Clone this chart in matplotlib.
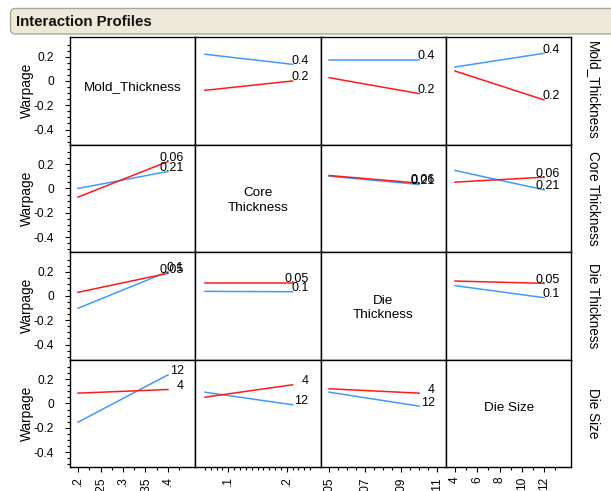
import numpy as np
import matplotlib
matplotlib.use("Agg")
import matplotlib.pyplot as plt
from matplotlib.patches import FancyBboxPatch
from matplotlib import font_manager

plt.rcParams["font.family"] = ["Liberation Sans", "DejaVu Sans"]

# ---- factors and their two levels ----
factors = ["Mold_Thickness", "Core Thickness", "Die Thickness", "Die Size"]
diag_text = ["Mold_Thickness", "Core\nThickness", "Die\nThickness", "Die Size"]
levels = [(0.2, 0.4), (0.06, 0.21), (0.05, 0.1), (4, 12)]
level_labels = [("0.2", "0.4"), ("0.06", "0.21"), ("0.05", "0.1"), ("4", "12")]

# Warpage at the low / high end of the column factor, with the row factor held
# at its low (red) or high (blue) level. None marks the diagonal cells.
mold_low = [None, (-0.077, 0.000), (0.027, -0.104), (0.082, -0.156)]
mold_high = [None, (0.220, 0.137), (0.173, 0.173), (0.115, 0.228)]
core_low = [(-0.071, 0.222), None, (0.107, 0.044), (0.052, 0.093)]
core_high = [(0.000, 0.140), None, (0.101, 0.033), (0.148, -0.011)]
dthk_low = [(0.030, 0.187), (0.110, 0.110), None, (0.123, 0.104)]
dthk_high = [(-0.101, 0.200), (0.038, 0.035), None, (0.085, -0.014)]
size_low = [(0.085, 0.115), (0.052, 0.154), (0.121, 0.085), None]
size_high = [(-0.154, 0.236), (0.093, -0.011), (0.093, -0.022), None]

low_rows = [mold_low, core_low, dthk_low, size_low]
high_rows = [mold_high, core_high, dthk_high, size_high]

# ---- axis scales ----
xlims = [(0.1822, 0.4607), (0.0435, 0.258), (0.0453, 0.1149), (3.191, 14.45)]
x_major = [[0.2, 0.25, 0.3, 0.35, 0.4], [0.1, 0.2], [0.05, 0.07, 0.09, 0.11],
           [4, 6, 8, 10, 12]]
x_major_labels = [[".2", ".25", ".3", ".35", ".4"], [".1", ".2"],
                  [".05", ".07", ".09", ".11"], ["4", "6", "8", "10", "12"]]
x_minor = [np.arange(0.225, 0.43, 0.05),
           np.arange(0.06, 0.245, 0.01),
           np.arange(0.055, 0.11, 0.005),
           np.arange(5, 14, 2)]
ylim = (-0.523, 0.362)
y_major = [-0.4, -0.2, 0, 0.2]
y_major_labels = ["-0.4", "-0.2", "0", "0.2"]
y_minor = np.arange(-0.5, 0.31, 0.05)

RED = "#FF1A1A"
BLUE = "#3D9BFF"

# a condensed bold face for the header if one is installed
installed = {f.name for f in font_manager.fontManager.ttflist}
if "Liberation Sans Narrow" in installed:
    title_family, title_size = ["Liberation Sans Narrow", "Liberation Sans"], 12.5
else:
    title_family, title_size = ["Liberation Sans", "DejaVu Sans"], 10.8

W, H = 611, 491
fig = plt.figure(figsize=(W / 100, H / 100), dpi=100)
fig.patch.set_facecolor("white")

# header strip
bg = fig.add_axes([0, 0, 1, 1], zorder=-5)
bg.set_xlim(0, W)
bg.set_ylim(H, 0)
bg.axis("off")
bg.add_patch(FancyBboxPatch((10.5, 8.5), 640, 25.5,
                            boxstyle="round,pad=0,rounding_size=5",
                            facecolor="#ECE9D8", edgecolor="#A9A79A", lw=1.0))
bg.text(16, 21.5, "Interaction Profiles", fontsize=title_size,
        fontweight="bold", family=title_family,
        ha="left", va="center", color="#111111")

col_x = [70, 195.3, 320.6, 446, 571.3]
row_y = [37, 144.5, 252, 359.5, 467]

for i in range(4):
    for j in range(4):
        ax = fig.add_axes([col_x[j] / W, 1 - row_y[i + 1] / H,
                           (col_x[j + 1] - col_x[j]) / W,
                           (row_y[i + 1] - row_y[i]) / H])
        ax.set_xlim(*xlims[j])
        ax.set_ylim(*ylim)
        for s in ax.spines.values():
            s.set_linewidth(1.0)
            s.set_color("black")
        ax.tick_params(which="both", direction="out", color="black",
                       width=0.8, labelsize=8.6)
        ax.tick_params(which="major", length=3.8)
        ax.tick_params(which="minor", length=2.2)
        if j == 0:
            ax.set_yticks(y_major)
            ax.set_yticklabels(y_major_labels)
            ax.set_yticks(y_minor, minor=True)
            ax.tick_params(axis="y", pad=7.5)
        else:
            ax.set_yticks([])
            ax.set_yticks([], minor=True)
        if i == 3:
            ax.set_xticks(x_major[j])
            ax.set_xticklabels(x_major_labels[j], rotation=90, va="top")
            ax.set_xticks(x_minor[j], minor=True)
            ax.tick_params(axis="x", pad=3)
        else:
            ax.set_xticks([])
            ax.set_xticks([], minor=True)

        if i == j:
            yfrac = [0.53, 0.48, 0.48, 0.55][i]
            ax.text(0.5, yfrac, diag_text[i], transform=ax.transAxes,
                    ha="center", va="center", fontsize=9.7,
                    linespacing=1.25)
            continue

        lo = low_rows[i][j]
        hi = high_rows[i][j]
        ax.plot(levels[j], hi, color=BLUE, lw=1.1)
        ax.plot(levels[j], lo, color=RED, lw=1.1)
        for vals, lab in ((lo, level_labels[i][0]), (hi, level_labels[i][1])):
            ax.annotate(lab, xy=(levels[j][1], vals[1]), xytext=(16, 0.5),
                        textcoords="offset pixels", ha="right",
                        va="baseline", fontsize=9, annotation_clip=False)

# row titles and response labels
for i in range(4):
    yc = 1 - (row_y[i] + row_y[i + 1]) / 2 / H
    fig.text(27 / W, yc, "Warpage", rotation=90, ha="center", va="center",
             fontsize=9.8)
    fig.text(593 / W, yc, factors[i], rotation=270, ha="center", va="center",
             fontsize=9.8)

fig.savefig("out.png", dpi=100, facecolor="white")
